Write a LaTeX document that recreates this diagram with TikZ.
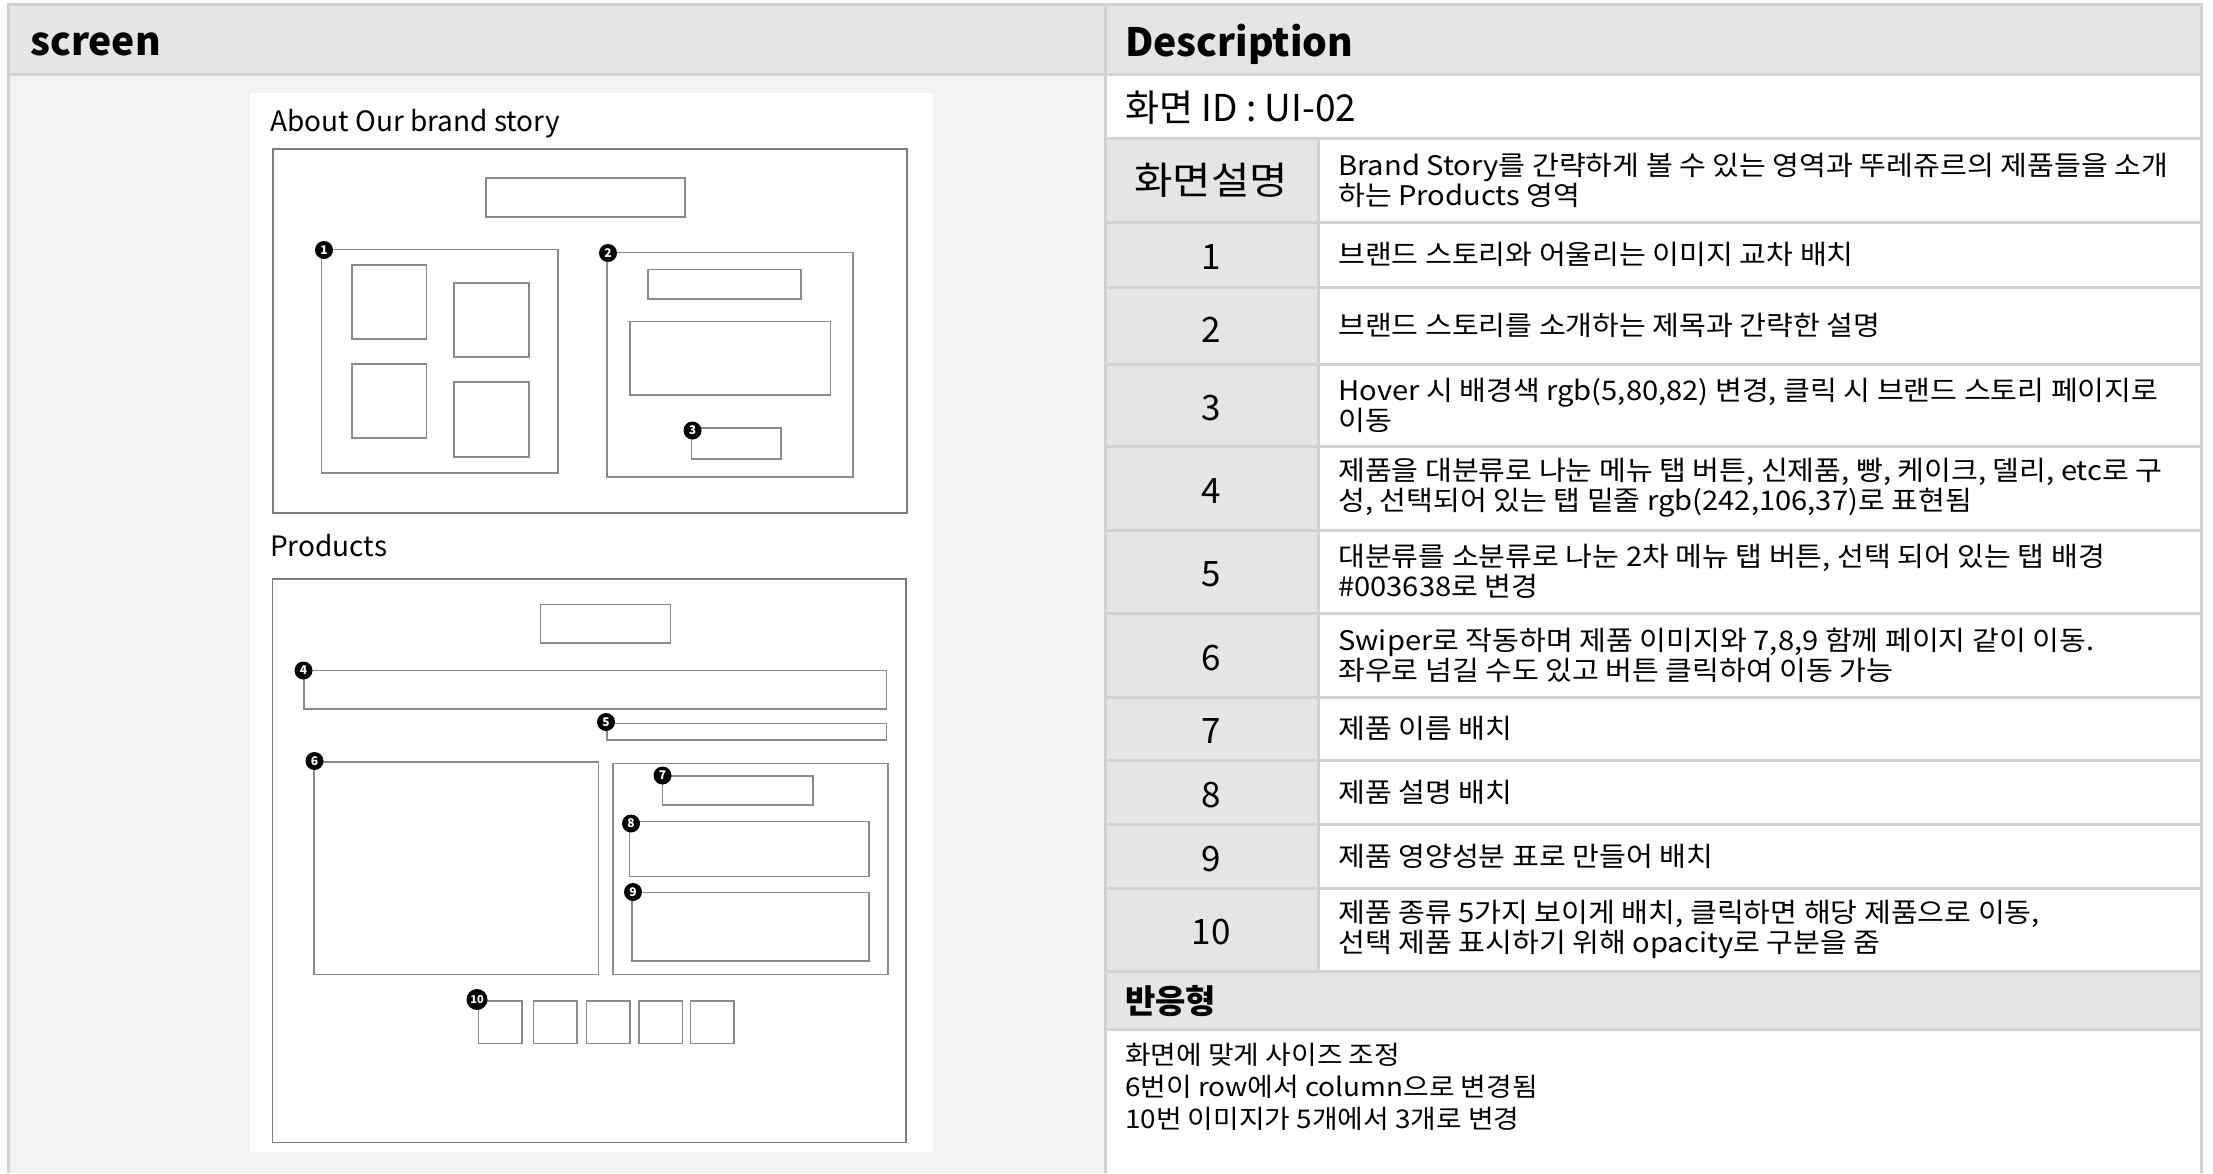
\documentclass[tikz,border=0pt]{standalone}
\usepackage{fontspec}
\setmainfont{Noto Sans CJK KR}
\newfontfamily\widefont[FakeStretch=1.08]{Noto Sans CJK KR}
\newfontfamily\lblfont[FakeStretch=1.1]{Noto Sans CJK KR}
\definecolor{hdr}{HTML}{E5E5E5}
\definecolor{lbody}{HTML}{F2F2F2}
\definecolor{gridc}{HTML}{D2D2D2}
\definecolor{wirec}{HTML}{8A8A8A}
\definecolor{wireo}{HTML}{7C7C7C}
\begin{document}
\begin{tikzpicture}[x=1pt,y=-1pt,
  wire/.style={draw=wirec,line width=1.6pt},
  wireouter/.style={draw=wireo,line width=1.8pt},
  gridline/.style={draw=gridc,line width=3pt},
  badge/.style={circle,fill=black,inner sep=0pt,minimum size=18pt,text=white,font=\fontsize{12}{12}\selectfont\bfseries},
  bigbadge/.style={badge,minimum size=21pt,font=\fontsize{11}{11}\selectfont\bfseries},
  head/.style={anchor=west,inner sep=0pt,font=\fontsize{39}{39}\selectfont\bfseries},
  desc/.style={anchor=west,align=left,inner sep=0pt,font=\widefont\fontsize{27}{30}\selectfont},
  num/.style={inner sep=0pt,font=\fontsize{35}{35}\selectfont},
  mock/.style={anchor=west,inner sep=0pt,font=\fontsize{28}{28}\selectfont}]
\useasboundingbox (0,0) rectangle (2213,1173);
\fill[white] (0,0) rectangle (2213,1173);
% backgrounds
\fill[hdr] (8,4) rectangle (2201,74);
\fill[lbody] (8,74) rectangle (1105,1173);
\fill[white] (250,93) rectangle (933,1152);
\fill[hdr] (1105,138) rectangle (1318,971);
\fill[hdr] (1105,971) rectangle (2201,1029);
% grid
\draw[gridline] (8,1173) -- (8,4) -- (2201,4) -- (2201,1173);
\draw[gridline] (8,74) -- (2201,74);
\draw[gridline] (1105,4) -- (1105,1173);
\foreach \yy in {138,222,287,364,446,530,613,697,760,824,888,971,1029}
  \draw[gridline] (1105,\yy) -- (2201,\yy);
\draw[gridline] (1318,138) -- (1318,971);
% headers
\node[head] (hscreen) at (30,44) {screen};
\node[head] (hdesc) at (1125,44) {Description};
\node[anchor=west,inner sep=0pt,font=\fontsize{37}{37}\selectfont] (sid) at (1125,108) {화면 ID : UI-02};
\node[inner sep=0pt,font=\lblfont\fontsize{38}{38}\selectfont] (lbl) at (1211,180) {화면설명};
\node[desc] (d0) at (1338,180) {Brand Story를 간략하게 볼 수 있는 영역과 뚜레쥬르의 제품들을 소개\\하는 Products 영역};
% numbered rows
\node[num] (n1) at (1211,257) {1};
\node[num] (n2) at (1211,330) {2};
\node[num] (n3) at (1211,408) {3};
\node[num] (n4) at (1211,491) {4};
\node[num] (n5) at (1211,574) {5};
\node[num] (n6) at (1211,658) {6};
\node[num] (n7) at (1211,731) {7};
\node[num] (n8) at (1211,795) {8};
\node[num] (n9) at (1211,859) {9};
\node[num] (n10) at (1211,932) {10};
\node[desc] (d1) at (1338,254.5) {브랜드 스토리와 어울리는 이미지 교차 배치};
\node[desc] (d2) at (1338,325.5) {브랜드 스토리를 소개하는 제목과 간략한 설명};
\node[desc] (d3) at (1338,405) {Hover 시 배경색 rgb(5,80,82) 변경, 클릭 시 브랜드 스토리 페이지로\\이동};
\node[desc] (d4) at (1338,488) {제품을 대분류로 나눈 메뉴 탭 버튼, 신제품, 빵, 케이크, 델리, etc로 구\\성, 선택되어 있는 탭 밑줄 rgb(242,106,37)로 표현됨};
\node[desc] (d5) at (1338,571.5) {대분류를 소분류로 나눈 2차 메뉴 탭 버튼, 선택 되어 있는 탭 배경\\\#003638로 변경};
\node[desc] (d6) at (1338,655) {Swiper로 작동하며 제품 이미지와 7,8,9 함께 페이지 같이 이동.\\좌우로 넘길 수도 있고 버튼 클릭하여 이동 가능};
\node[desc] (d7) at (1338,728.5) {제품 이름 배치};
\node[desc] (d8) at (1338,792) {제품 설명 배치};
\node[desc] (d9) at (1338,856) {제품 영양성분 표로 만들어 배치};
\node[desc] (d10) at (1338,929.5) {제품 종류 5가지 보이게 배치, 클릭하면 해당 제품으로 이동,\\선택 제품 표시하기 위해 opacity로 구분을 줌};
\node[anchor=west,inner sep=0pt,font=\fontsize{33}{33}\selectfont\bfseries] (resp) at (1125,1001) {반응형};
\node[anchor=north west,align=left,inner sep=0pt,font=\widefont\fontsize{25.8}{32}\selectfont] (respbody) at (1125,1043) {화면에 맞게 사이즈 조정\\6번이 row에서 column으로 변경됨\\10번 이미지가 5개에서 3개로 변경};
% mockup: brand story
\node[mock] (tabout) at (270,124) {About Our brand story};
\draw[wireouter] (273,149) rectangle (907,513);
\draw[wire] (486,178) rectangle (685,217);
\draw[wire] (321.5,249.5) rectangle (558,473);
\draw[wire] (352,265) rectangle (426.5,339);
\draw[wire] (454,283) rectangle (529,357);
\draw[wire] (352,364) rectangle (426.5,438);
\draw[wire] (454,382) rectangle (529,457);
\draw[wire] (607,252.5) rectangle (853,477);
\draw[wire] (648,269.5) rectangle (801,299);
\draw[wire] (630,321.5) rectangle (830.5,395);
\draw[wire] (691.5,428) rectangle (781,459);
\node[badge] (b1) at (324,250) {1};
\node[badge] (b2) at (608,253) {2};
\node[badge] (b3) at (692.5,430.5) {3};
% mockup: products
\node[mock] (tprod) at (270,546) {Products};
\draw[wireouter] (272.5,579) rectangle (906,1142.5);
\draw[wire] (540.5,604.5) rectangle (670.5,643);
\draw[wire] (304,670.5) rectangle (886.5,709);
\draw[wire] (607,723.5) rectangle (886.5,740);
\draw[wire] (314,762) rectangle (598.5,974.5);
\draw[wire] (613,763.5) rectangle (888,974.5);
\draw[wire] (662.5,776) rectangle (813,805);
\draw[wire] (629.5,821.5) rectangle (869,876.5);
\draw[wire] (632,892.5) rectangle (869,961);
\foreach \xx in {478.5,533.5,586.5,639,690.5}
  \draw[wire] (\xx,1001) rectangle ++(43.5,42.5);
\node[badge] (b4) at (303.5,670.5) {4};
\node[badge] (b5) at (606,722) {5};
\node[badge] (b6) at (314.5,761) {6};
\node[badge] (b7) at (662.5,775.5) {7};
\node[badge] (b8) at (631,823.5) {8};
\node[badge] (b9) at (633,892) {9};
\node[bigbadge] (b10) at (477,999.5) {10};
\end{tikzpicture}
\end{document}
